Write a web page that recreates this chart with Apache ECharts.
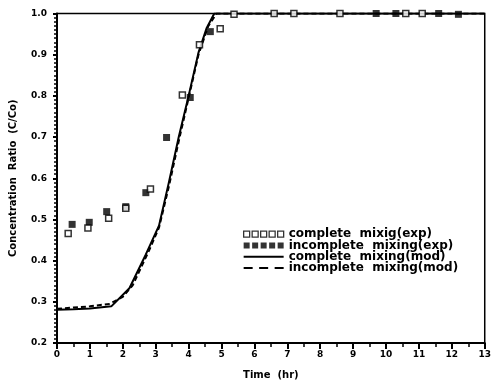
<!DOCTYPE html>
<html>
<head>
    <meta charset="UTF-8">
    <title>Concentration ratio</title>
    <script src="https://cdn.jsdelivr.net/npm/echarts@6/dist/echarts.min.js"></script>
</head>
<body style="margin:0;background:#fff;">
<div id="chart" style="width:494px; height:385px;"></div>
<script>
    // data: [time (hr), C/Co]
    var completeExp = [
        [0.34, 0.466], [0.94, 0.479], [1.57, 0.503], [2.09, 0.527], [2.84, 0.574],
        [3.81, 0.802], [4.33, 0.924], [4.96, 0.963], [5.38, 0.998], [6.6, 1.0],
        [7.2, 1.0], [7.8, 1.004], [8.6, 1.0], [9.3, 1.003], [10.1, 1.015],
        [10.6, 1.0], [11.1, 1.0]
    ];
    var incompleteExp = [
        [0.46, 0.488], [0.98, 0.493], [1.51, 0.519], [2.09, 0.531], [2.70, 0.565],
        [3.33, 0.699], [4.05, 0.796], [4.66, 0.956], [5.85, 1.008], [6.40, 1.004],
        [6.9, 1.003], [7.5, 1.002], [8.1, 1.01], [8.8, 1.003], [9.7, 1.0],
        [10.3, 1.0], [11.6, 1.0], [12.2, 0.998]
    ];
    var completeMod = [
        [0, 0.281], [0.5, 0.282], [1.0, 0.284], [1.65, 0.289], [2.2, 0.333],
        [2.7, 0.415], [3.1, 0.485], [3.4, 0.59], [3.7, 0.70], [4.0, 0.80],
        [4.3, 0.905], [4.55, 0.965], [4.78, 1.0], [13, 1.0]
    ];
    var incompleteMod = [
        [0, 0.283], [0.5, 0.286], [1.0, 0.289], [1.6, 0.295], [2.0, 0.312],
        [2.3, 0.34], [2.8, 0.425], [3.1, 0.48], [3.4, 0.58], [3.7, 0.69],
        [4.0, 0.795], [4.3, 0.9], [4.6, 0.97], [4.85, 1.0], [13, 1.0]
    ];
    var seriesNames = ['complete  mixig(exp)', 'incomplete  mixing(exp)',
        'complete  mixing(mod)', 'incomplete  mixing(mod)'];

    var font = 'DejaVu Sans';
    // legend icons
    var fiveSquares = 'path://M0,0h6v6h-6zM8.5,0h6v6h-6zM17,0h6v6h-6zM25.5,0h6v6h-6zM34,0h6v6h-6z';
    var solidBar = 'path://M0,0h40v2h-40z';
    var dashBar = 'path://M0,0h9v2h-9zM15.5,0h9v2h-9zM31,0h9v2h-9z';

    var chart = echarts.init(document.getElementById('chart'), null, {renderer: 'canvas'});
    var option = {
        animation: false,
        backgroundColor: '#fff',
        grid: {
            left: 52, right: 7, top: 13.5, bottom: 38,
            show: true, borderColor: '#000', borderWidth: 1.5
        },
        legend: {
            orient: 'vertical',
            left: 238, top: 223,
            itemWidth: 40, itemHeight: 6, itemGap: -1,
            textStyle: {fontFamily: font, fontSize: 12, fontWeight: 'bold', color: '#000', lineHeight: 12.3},
            data: [
                {name: seriesNames[0], icon: fiveSquares, itemStyle: {color: '#fff', borderColor: '#000', borderWidth: 1.3}},
                {name: seriesNames[1], icon: fiveSquares, itemStyle: {color: '#000'}},
                {name: seriesNames[2], icon: solidBar, itemHeight: 2, itemStyle: {color: '#000'}, lineStyle: {width: 0}},
                {name: seriesNames[3], icon: dashBar, itemHeight: 2, itemStyle: {color: '#000'}, lineStyle: {width: 0}}
            ]
        },
        xAxis: {
            type: 'value', min: 0, max: 13, interval: 1,
            name: 'Time  (hr)', nameLocation: 'middle', nameGap: 27,
            nameTextStyle: {fontFamily: font, fontSize: 10, fontWeight: 'bold', color: '#000'},
            axisLine: {lineStyle: {color: '#000', width: 2}},
            axisTick: {show: true, inside: false, length: 6, lineStyle: {color: '#000', width: 2}},
            minorTick: {show: true, splitNumber: 2, length: 4, lineStyle: {color: '#000', width: 1.5}},
            splitLine: {show: false},
            axisLabel: {fontFamily: font, fontSize: 9, fontWeight: 'bold', color: '#000', margin: 7}
        },
        yAxis: {
            type: 'value', min: 0.2, max: 1.0, interval: 0.1,
            name: 'Concentration  Ratio  (C/Co)', nameLocation: 'middle', nameGap: 39,
            nameTextStyle: {fontFamily: font, fontSize: 10, fontWeight: 'bold', color: '#000'},
            axisLine: {lineStyle: {color: '#000', width: 2}},
            axisTick: {length: 4, lineStyle: {color: '#000', width: 2}},
            minorTick: {show: true, splitNumber: 10, length: 3, lineStyle: {color: '#000', width: 1.5}},
            splitLine: {show: false},
            axisLabel: {
                fontFamily: font, fontSize: 9, fontWeight: 'bold', color: '#000', margin: 10,
                formatter: function (v) { return v.toFixed(1); }
            }
        },
        series: [
            {
                name: seriesNames[0], type: 'scatter', data: completeExp,
                symbol: 'rect', symbolSize: 6,
                itemStyle: {color: '#fff', borderColor: '#000', borderWidth: 1.5}, z: 4
            },
            {
                name: seriesNames[1], type: 'scatter', data: incompleteExp,
                symbol: 'rect', symbolSize: 7,
                itemStyle: {color: '#000'}, z: 3
            },
            {
                name: seriesNames[2], type: 'line', data: completeMod,
                symbol: 'none', lineStyle: {color: '#000', width: 2}, itemStyle: {color: '#000'}
            },
            {
                name: seriesNames[3], type: 'line', data: incompleteMod,
                symbol: 'none', lineStyle: {color: '#000', width: 2, type: [5, 3]}, itemStyle: {color: '#000'}
            }
        ]
    };
    chart.setOption(option);
</script>
</body>
</html>
